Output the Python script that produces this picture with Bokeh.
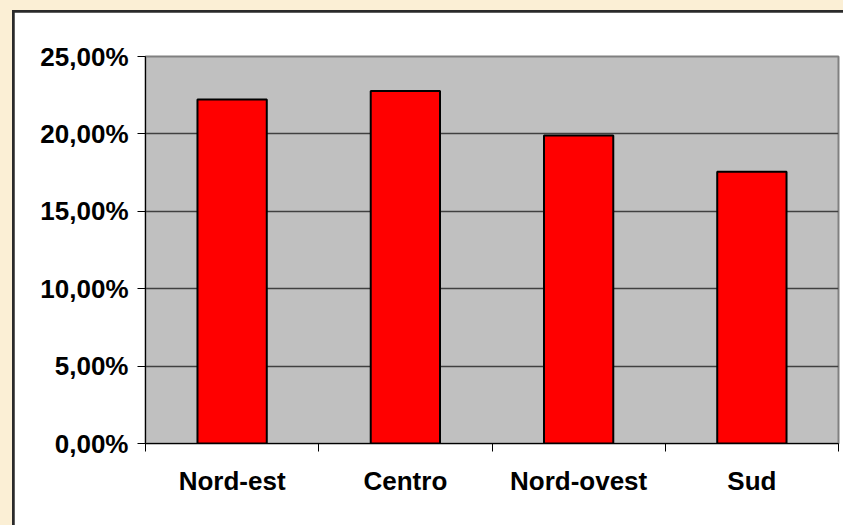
from bokeh.plotting import figure
from bokeh.layouts import column
from bokeh.models import FixedTicker, Range1d, ColumnDataSource
from bokeh.embed import file_html
from bokeh.resources import INLINE

categories = ["Nord-est", "Centro", "Nord-ovest", "Sud"]
values = [22.23, 22.77, 19.90, 17.56]
y_ticks = [0, 5, 10, 15, 20, 25]
y_tick_labels = ["0,00%", "5,00%", "10,00%", "15,00%", "20,00%", "25,00%"]

BEIGE = "#FBEFD5"
W, H = 829, 513
p = figure(width=W, height=H, output_backend="svg", toolbar_location=None,
           x_range=Range1d(0, len(categories)), y_range=Range1d(0, 25),
           min_border_left=131, min_border_right=5, min_border_top=44, min_border_bottom=82)
p.border_fill_color = "white"
p.background_fill_color = "#C0C0C0"
p.outline_line_color = "#808080"
p.outline_line_width = 2
p.margin = (2, 0, 0, 2)

xs = [i + 0.5 for i in range(len(categories))]
src = ColumnDataSource(dict(x=xs, top=values))
p.vbar(x="x", top="top", width=0.4, bottom=0, source=src,
       fill_color="#FF0000", line_color="black", line_width=2)

# axes
p.xaxis.ticker = FixedTicker(ticks=xs, minor_ticks=list(range(len(categories) + 1)))
p.xaxis.major_label_overrides = {x: c for x, c in zip(xs, categories)}
p.xaxis.major_tick_out = 0
p.xaxis.major_tick_in = 0
p.xaxis.minor_tick_out = 8
p.xaxis.minor_tick_in = 0
p.xaxis.minor_tick_line_color = "black"
p.xaxis.axis_line_color = "black"
p.xaxis.major_label_standoff = 14
p.xaxis.major_label_text_font = "Liberation Sans"
p.xaxis.major_label_text_font_style = "bold"
p.xaxis.major_label_text_font_size = "26px"
p.xaxis.major_label_text_color = "black"

p.yaxis.ticker = FixedTicker(ticks=y_ticks, minor_ticks=[])
p.yaxis.major_label_overrides = {t: l for t, l in zip(y_ticks, y_tick_labels)}
p.yaxis.major_tick_out = 8
p.yaxis.major_tick_in = 0
p.yaxis.minor_tick_out = 0
p.yaxis.minor_tick_in = 0
p.yaxis.axis_line_color = "black"
p.yaxis.major_tick_line_color = "black"
p.yaxis.major_label_standoff = 9
p.yaxis.major_label_text_font = "Liberation Sans"
p.yaxis.major_label_text_font_style = "bold"
p.yaxis.major_label_text_font_size = "26px"
p.yaxis.major_label_text_color = "black"

p.xgrid.visible = False
p.ygrid.ticker = FixedTicker(ticks=y_ticks[1:-1])
p.ygrid.grid_line_color = "#404040"
p.ygrid.grid_line_width = 1.5

inner = column(p, styles={"background-color": "#2a2a2a"})
inner.margin = (10, 0, 0, 12)
page = column(inner, styles={"background-color": BEIGE})

open("out.html", "w").write(file_html(page, INLINE))
